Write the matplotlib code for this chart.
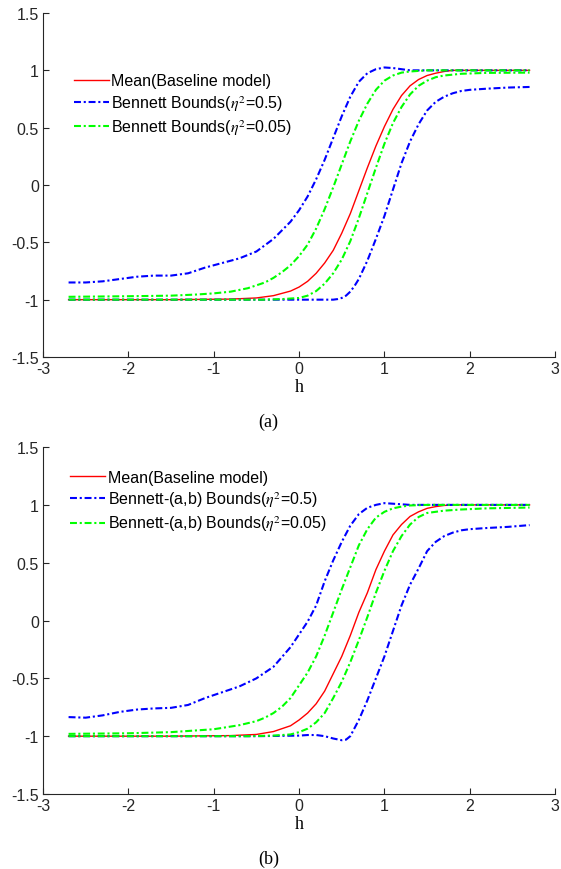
import matplotlib
matplotlib.use('Agg')
import matplotlib.pyplot as plt

plt.rcParams['font.family'] = ['Liberation Sans', 'DejaVu Sans']
plt.rcParams['axes.unicode_minus'] = False
plt.rcParams['lines.scale_dashes'] = False
plt.rcParams['mathtext.fontset'] = 'stix'

# (a) Bennett bounds
mean_a_x = [-2.7, -1.5, -0.8, -0.5, -0.3, -0.1, 0.0, 0.1, 0.2, 0.3, 0.4, 0.5, 0.6, 0.7, 0.8, 0.9, 1.0, 1.1, 1.2, 1.3, 1.4, 1.5, 1.6, 1.7, 1.8, 2.0, 2.7]
mean_a_y = [-1.0, -1.0, -0.995, -0.985, -0.965, -0.925, -0.89, -0.84, -0.77, -0.68, -0.57, -0.42, -0.25, -0.05, 0.15, 0.34, 0.51, 0.66, 0.78, 0.865, 0.92, 0.955, 0.975, 0.99, 1.0, 1.0, 1.0]

blue_up_a_x = [-2.7, -2.5, -2.3, -2.1, -1.9, -1.7, -1.5, -1.3, -1.1, -0.9, -0.7, -0.5, -0.3, -0.1, 0.0, 0.1, 0.2, 0.3, 0.4, 0.5, 0.6, 0.7, 0.8, 0.9, 1.0, 1.1, 1.2, 1.3, 1.5, 2.7]
blue_up_a_y = [-0.85, -0.85, -0.84, -0.82, -0.80, -0.79, -0.79, -0.77, -0.72, -0.68, -0.64, -0.58, -0.47, -0.32, -0.22, -0.10, 0.05, 0.22, 0.41, 0.60, 0.77, 0.90, 0.975, 1.01, 1.025, 1.02, 1.01, 1.0, 1.0, 1.0]

green_up_a_x = [-2.7, -2.0, -1.5, -1.2, -1.0, -0.8, -0.6, -0.4, -0.3, -0.2, -0.1, 0.0, 0.1, 0.2, 0.3, 0.4, 0.5, 0.6, 0.7, 0.8, 0.9, 1.0, 1.1, 1.2, 1.3, 1.5, 2.7]
green_up_a_y = [-0.975, -0.97, -0.965, -0.955, -0.945, -0.93, -0.90, -0.85, -0.81, -0.76, -0.70, -0.62, -0.52, -0.38, -0.21, -0.02, 0.18, 0.38, 0.56, 0.71, 0.83, 0.91, 0.955, 0.98, 0.99, 1.0, 1.0]

green_lo_a_x = [-2.7, -0.4, -0.2, 0.0, 0.1, 0.2, 0.3, 0.4, 0.5, 0.6, 0.7, 0.8, 0.9, 1.0, 1.1, 1.2, 1.3, 1.4, 1.5, 1.6, 1.7, 1.9, 2.2, 2.7]
green_lo_a_y = [-1.0, -1.0, -0.995, -0.985, -0.965, -0.925, -0.86, -0.77, -0.65, -0.49, -0.29, -0.07, 0.15, 0.36, 0.54, 0.68, 0.79, 0.865, 0.91, 0.94, 0.955, 0.97, 0.978, 0.98]

blue_lo_a_x = [-2.7, 0.3, 0.4, 0.45, 0.5, 0.55, 0.6, 0.65, 0.7, 0.8, 0.9, 1.0, 1.1, 1.2, 1.3, 1.4, 1.5, 1.6, 1.7, 1.8, 1.9, 2.0, 2.2, 2.45, 2.7]
blue_lo_a_y = [-1.0, -1.0, -1.0, -0.995, -0.985, -0.965, -0.93, -0.88, -0.82, -0.66, -0.47, -0.27, -0.04, 0.19, 0.38, 0.53, 0.65, 0.725, 0.77, 0.80, 0.82, 0.83, 0.84, 0.85, 0.855]

# (b) Bennett-(a,b) bounds
mean_b_x = [-2.7, -1.5, -0.8, -0.5, -0.3, -0.1, 0.0, 0.1, 0.2, 0.3, 0.4, 0.5, 0.6, 0.7, 0.8, 0.9, 1.0, 1.1, 1.2, 1.3, 1.4, 1.5, 1.6, 1.7, 1.8, 2.0, 2.7]
mean_b_y = [-1.0, -1.0, -0.995, -0.985, -0.96, -0.91, -0.86, -0.80, -0.72, -0.61, -0.46, -0.31, -0.13, 0.07, 0.24, 0.44, 0.60, 0.74, 0.83, 0.90, 0.94, 0.97, 0.985, 0.995, 1.0, 1.0, 1.0]

blue_up_b_x = [-2.7, -2.5, -2.3, -2.1, -1.9, -1.7, -1.5, -1.3, -1.1, -0.9, -0.7, -0.5, -0.3, -0.1, 0.0, 0.1, 0.2, 0.3, 0.4, 0.5, 0.6, 0.7, 0.8, 0.9, 1.0, 1.1, 1.2, 1.3, 1.5, 2.7]
blue_up_b_y = [-0.835, -0.84, -0.82, -0.79, -0.77, -0.76, -0.755, -0.73, -0.67, -0.62, -0.57, -0.50, -0.40, -0.23, -0.12, -0.01, 0.13, 0.34, 0.52, 0.68, 0.82, 0.92, 0.975, 1.0, 1.015, 1.01, 1.005, 1.0, 1.0, 1.0]

green_up_b_x = [-2.7, -2.0, -1.5, -1.0, -0.7, -0.5, -0.4, -0.3, -0.2, -0.1, 0.0, 0.1, 0.2, 0.3, 0.4, 0.5, 0.6, 0.7, 0.8, 0.9, 1.0, 1.1, 1.2, 1.3, 1.5, 2.7]
green_up_b_y = [-0.98, -0.975, -0.965, -0.94, -0.905, -0.87, -0.84, -0.80, -0.745, -0.67, -0.56, -0.45, -0.31, -0.13, 0.07, 0.27, 0.46, 0.65, 0.79, 0.89, 0.94, 0.97, 0.985, 0.995, 1.0, 1.0]

green_lo_b_x = [-2.7, -0.6, -0.3, -0.1, 0.0, 0.1, 0.2, 0.3, 0.4, 0.5, 0.6, 0.7, 0.8, 0.9, 1.0, 1.1, 1.2, 1.3, 1.4, 1.5, 1.7, 1.9, 2.2, 2.7]
green_lo_b_y = [-1.0, -1.0, -0.995, -0.985, -0.965, -0.935, -0.88, -0.80, -0.67, -0.53, -0.36, -0.17, 0.03, 0.24, 0.43, 0.60, 0.73, 0.83, 0.895, 0.93, 0.95, 0.96, 0.97, 0.977]

blue_lo_b_x = [-2.7, -0.5, 0.0, 0.1, 0.2, 0.3, 0.4, 0.5, 0.55, 0.6, 0.65, 0.7, 0.8, 0.9, 1.0, 1.1, 1.2, 1.3, 1.4, 1.5, 1.6, 1.7, 1.8, 1.9, 2.0, 2.2, 2.45, 2.7]
blue_lo_b_y = [-1.0, -1.0, -0.995, -0.99, -0.99, -1.0, -1.02, -1.035, -1.03, -1.0, -0.93, -0.86, -0.69, -0.50, -0.31, -0.09, 0.13, 0.31, 0.45, 0.60, 0.68, 0.73, 0.76, 0.78, 0.79, 0.80, 0.81, 0.825]

labels_a = ['Mean(Baseline model)', r'Bennett Bounds($\eta^2$=0.5)', r'Bennett Bounds($\eta^2$=0.05)']
labels_b = ['Mean(Baseline model)', r'Bennett-(a,b) Bounds($\eta^2$=0.5)', r'Bennett-(a,b) Bounds($\eta^2$=0.05)']

dashdot = (5, 2, 1.5, 2)
axcol = '#262626'

fig = plt.figure(figsize=(5.61, 8.70), dpi=100)
ax1 = fig.add_axes([0.0766, 0.5885, 0.913, 0.3954])
ax2 = fig.add_axes([0.0766, 0.0862, 0.913, 0.3988])

panels = [
    (ax1, mean_a_x, mean_a_y, blue_up_a_x, blue_up_a_y, blue_lo_a_x, blue_lo_a_y,
     green_up_a_x, green_up_a_y, green_lo_a_x, green_lo_a_y, labels_a, (0.06, 0.825), '(a)'),
    (ax2, mean_b_x, mean_b_y, blue_up_b_x, blue_up_b_y, blue_lo_b_x, blue_lo_b_y,
     green_up_b_x, green_up_b_y, green_lo_b_x, green_lo_b_y, labels_b, (0.053, 0.935), '(b)'),
]

for ax, mx, my, bux, buy, blx, bly, gux, guy, glx, gly, labs, anchor, tag in panels:
    l1, = ax.plot(mx, my, color='red', lw=1.0)
    l2, = ax.plot(bux, buy, color='blue', lw=1.5, linestyle=(0, dashdot))
    ax.plot(blx, bly, color='blue', lw=1.5, linestyle=(0, dashdot))
    l3, = ax.plot(gux, guy, color='#00ff00', lw=1.5, linestyle=(0, dashdot))
    ax.plot(glx, gly, color='#00ff00', lw=1.5, linestyle=(0, dashdot))

    ax.set_xlim(-3, 3)
    ax.set_ylim(-1.5, 1.5)
    ax.set_xticks([-3, -2, -1, 0, 1, 2, 3])
    ax.set_yticks([-1.5, -1, -0.5, 0, 0.5, 1, 1.5])
    ax.set_yticklabels(['-1.5', '-1', '-0.5', '0', '0.5', '1', '1.5'])
    ax.spines['top'].set_visible(False)
    ax.spines['right'].set_visible(False)
    for s in ['left', 'bottom']:
        ax.spines[s].set_color(axcol)
        ax.spines[s].set_linewidth(0.8)
    ax.tick_params(direction='in', length=4, width=0.8, colors=axcol,
                   labelsize=11.5, pad=3)
    ax.set_xlabel('h', family='Liberation Serif', fontsize=13, labelpad=1)

    ax.legend([l1, l2, l3], labs, loc='upper left', bbox_to_anchor=anchor,
              frameon=False, fontsize=11.5, handlelength=2.2,
              handletextpad=0.15, labelspacing=0.3, borderpad=0,
              borderaxespad=0)

    pos = ax.get_position()
    fig.text(pos.x0 + pos.width * 0.44, pos.y0 - 0.074, tag,
             family='Liberation Serif', fontsize=13, ha='center', va='center')

fig.savefig('out.png', dpi=100)
